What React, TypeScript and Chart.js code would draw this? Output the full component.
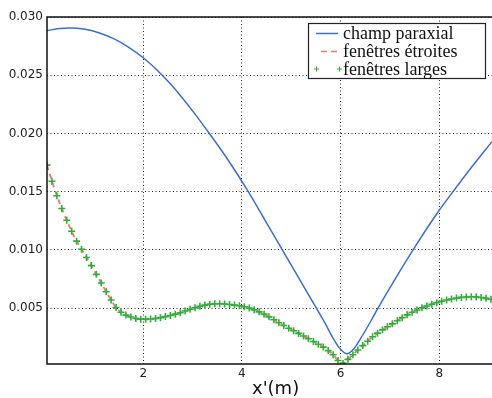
import React, { useEffect, useRef } from "react";
import { Chart, registerables } from "chart.js";

Chart.register(...registerables);

// champ paraxial (blue)
const paraxX = [0.05, 0.3, 0.5, 0.8, 1.1, 1.4, 1.7, 2.0, 2.3, 2.6, 3.0, 3.34, 3.7, 4.13, 4.5, 4.82, 5.2, 5.51, 5.7, 5.85, 6.0, 6.13, 6.26, 6.4, 6.63, 6.76, 7.1, 7.47, 8.0, 8.28, 8.6, 9.07];
const paraxY = [0.02883, 0.02901, 0.02906, 0.02896, 0.02865, 0.02814, 0.02742, 0.0265, 0.02537, 0.02403, 0.02194, 0.0200, 0.01785, 0.0150, 0.01232, 0.0100, 0.00725, 0.0050, 0.0036, 0.00241, 0.00146, 0.00107, 0.00146, 0.00234, 0.0040, 0.0050, 0.00745, 0.0100, 0.0134, 0.0150, 0.0168, 0.0193];

// fenêtres (x grid)
const fenX = [
  0.05, 0.15, 0.25, 0.35, 0.45, 0.55, 0.65, 0.75, 0.85, 0.95,
  1.05, 1.15, 1.25, 1.35, 1.45, 1.55, 1.65, 1.75, 1.85, 1.95,
  2.05, 2.15, 2.25, 2.35, 2.45, 2.55, 2.65, 2.75, 2.85, 2.95,
  3.05, 3.15, 3.25, 3.35, 3.45, 3.55, 3.65, 3.75, 3.85, 3.95,
  4.05, 4.15, 4.25, 4.35, 4.45, 4.55, 4.65, 4.75, 4.85, 4.95,
  5.05, 5.15, 5.25, 5.35, 5.45, 5.55, 5.65, 5.75, 5.85, 5.95,
  6.05, 6.15, 6.25, 6.35, 6.45, 6.55, 6.65, 6.75, 6.85, 6.95,
  7.05, 7.15, 7.25, 7.35, 7.45, 7.55, 7.65, 7.75, 7.85, 7.95,
  8.05, 8.15, 8.25, 8.35, 8.45, 8.55, 8.65, 8.75, 8.85, 8.95,
  9.05,
];

// fenêtres larges (green +)
const largesY = [
  0.01728, 0.0159, 0.01465, 0.01355, 0.01255, 0.0116, 0.01075, 0.01005, 0.00935, 0.00865,
  0.0079, 0.00715, 0.0064, 0.0057, 0.00505, 0.00465, 0.0044, 0.00423, 0.00411, 0.00405,
  0.00404, 0.00406, 0.00411, 0.00418, 0.00427, 0.00437, 0.00448, 0.0046, 0.00475, 0.0049,
  0.00503, 0.00515, 0.00526, 0.00533, 0.00537, 0.00537, 0.00535, 0.00531, 0.00526, 0.0052,
  0.00512, 0.005, 0.00485, 0.00468, 0.00448, 0.00425, 0.004, 0.00374, 0.0035, 0.00327,
  0.00305, 0.00283, 0.0026, 0.00237, 0.00213, 0.0019, 0.00165, 0.00135, 0.001, 0.0005,
  0.00025, 0.0006, 0.001, 0.0014, 0.00178, 0.00216, 0.00254, 0.00285, 0.00313, 0.0034,
  0.00365, 0.00392, 0.00418, 0.00442, 0.00464, 0.00484, 0.00502, 0.00518, 0.00533, 0.00547,
  0.00559, 0.00569, 0.00578, 0.00586, 0.00592, 0.00596, 0.00598, 0.00596, 0.00591, 0.00584,
  0.00576,
];

// fenêtres étroites (red dashed) — coincides with larges
const etroitesY = [
  0.01728, 0.0159, 0.01465, 0.01355, 0.01255, 0.0116, 0.01075, 0.01005, 0.00935, 0.00865,
  0.0079, 0.00715, 0.0064, 0.0057, 0.00505, 0.00465, 0.0044, 0.00423, 0.00411, 0.00405,
  0.00404, 0.00406, 0.00411, 0.00418, 0.00427, 0.00437, 0.00448, 0.0046, 0.00475, 0.0049,
  0.00503, 0.00515, 0.00526, 0.00533, 0.00537, 0.00537, 0.00535, 0.00531, 0.00526, 0.0052,
  0.00512, 0.005, 0.00485, 0.00468, 0.00448, 0.00425, 0.004, 0.00374, 0.0035, 0.00327,
  0.00305, 0.00283, 0.0026, 0.00237, 0.00213, 0.0019, 0.00165, 0.00135, 0.001, 0.0005,
  0.00025, 0.0006, 0.001, 0.0014, 0.00178, 0.00216, 0.00254, 0.00285, 0.00313, 0.0034,
  0.00365, 0.00392, 0.00418, 0.00442, 0.00464, 0.00484, 0.00502, 0.00518, 0.00533, 0.00547,
  0.00559, 0.00569, 0.00578, 0.00586, 0.00592, 0.00596, 0.00598, 0.00596, 0.00591, 0.00584,
  0.00576,
];

const xTicks = [2, 4, 6, 8];
const yTicks = [0.005, 0.01, 0.015, 0.02, 0.025, 0.03];
const legendLabels = ["champ paraxial", "fenêtres étroites", "fenêtres larges"];
const xTitle = "x'(m)";

const BLUE = "#3a6fd0";
const RED = "#f07a66";
const GREEN = "#2fae3c";

const framePlugin = {
  id: "frame",
  beforeDraw(chart: any) {
    const { ctx } = chart;
    ctx.save();
    ctx.fillStyle = "#ffffff";
    ctx.fillRect(0, 0, chart.width, chart.height);
    ctx.restore();
  },
  afterDraw(chart: any) {
    const { ctx, chartArea } = chart;
    const { left, top, right, bottom } = chartArea;
    ctx.save();
    ctx.strokeStyle = "#111";
    ctx.lineWidth = 1.5;
    ctx.beginPath();
    ctx.moveTo(right + 2, top);
    ctx.lineTo(left, top);
    ctx.lineTo(left, bottom);
    ctx.lineTo(right + 2, bottom);
    ctx.stroke();

    // x title
    ctx.fillStyle = "#111";
    ctx.font = '18px "DejaVu Sans"';
    ctx.textAlign = "left";
    ctx.textBaseline = "alphabetic";
    ctx.fillText(xTitle, 252, 394);

    // legend
    const bx = 308.5, by = 23.5, bw = 177, bh = 55;
    ctx.fillStyle = "#fff";
    ctx.fillRect(bx, by, bw, bh);
    ctx.strokeStyle = "#222";
    ctx.lineWidth = 1.2;
    ctx.strokeRect(bx, by, bw, bh);
    const rows = [33.5, 51.5, 69];
    ctx.strokeStyle = BLUE;
    ctx.lineWidth = 1.5;
    ctx.beginPath();
    ctx.moveTo(316, rows[0]);
    ctx.lineTo(338, rows[0]);
    ctx.stroke();
    ctx.strokeStyle = RED;
    ctx.setLineDash([6, 4]);
    ctx.beginPath();
    ctx.moveTo(321, rows[1]);
    ctx.lineTo(338, rows[1]);
    ctx.stroke();
    ctx.setLineDash([]);
    ctx.strokeStyle = GREEN;
    ctx.lineWidth = 1;
    for (const cx of [316.5, 339.5]) {
      ctx.beginPath();
      ctx.moveTo(cx - 2.5, rows[2]);
      ctx.lineTo(cx + 2.5, rows[2]);
      ctx.moveTo(cx, rows[2] - 2.5);
      ctx.lineTo(cx, rows[2] + 2.5);
      ctx.stroke();
    }
    ctx.fillStyle = "#111";
    ctx.font = '18px "Liberation Serif"';
    ctx.textBaseline = "middle";
    legendLabels.forEach((t, i) => ctx.fillText(t, 343, rows[i] + 1));
    ctx.restore();
  },
};

export default function App() {
  const ref = useRef<HTMLCanvasElement>(null);
  useEffect(() => {
    document.body.style.margin = "0";
    const canvas = ref.current!;
    const chart = new Chart(canvas, {
      type: "line",
      data: {
        datasets: [
          {
            label: legendLabels[2],
            data: fenX.map((x, i) => ({ x, y: largesY[i] })),
            showLine: false,
            pointStyle: "cross",
            pointRadius: 3.5,
            pointBorderWidth: 1.6,
            pointBorderColor: GREEN,
            pointBackgroundColor: GREEN,
            borderColor: GREEN,
            order: 0,
          },
          {
            label: legendLabels[1],
            data: fenX.map((x, i) => ({ x, y: etroitesY[i] })),
            borderColor: RED,
            borderWidth: 1.8,
            borderDash: [5, 4],
            pointRadius: 0,
            cubicInterpolationMode: "monotone",
            order: 1,
          },
          {
            label: legendLabels[0],
            data: paraxX.map((x, i) => ({ x, y: paraxY[i] })),
            borderColor: BLUE,
            borderWidth: 1.5,
            pointRadius: 0,
            cubicInterpolationMode: "monotone",
            order: 2,
          },
        ],
      },
      options: {
        responsive: false,
        animation: false,
        devicePixelRatio: 1,
        layout: { autoPadding: false, padding: { top: 17, right: 0, left: 0, bottom: 0 } },
        plugins: { legend: { display: false }, tooltip: { enabled: false } },
        scales: {
          x: {
            type: "linear",
            min: 0.05,
            max: 9.07,
            afterBuildTicks: (s: any) => {
              s.ticks = xTicks.map((v) => ({ value: v }));
            },
            afterFit: (s: any) => {
              s.height = 34;
            },
            ticks: {
              callback: (v: any) => String(v),
              color: "#222",
              font: { family: "DejaVu Sans", size: 12 },
              padding: 3,
              maxRotation: 0,
            },
            grid: { color: "#222", lineWidth: 1, drawTicks: false },
            border: { display: false, dash: [1, 2.5] },
          },
          y: {
            type: "linear",
            min: 0.0002,
            max: 0.03,
            afterBuildTicks: (s: any) => {
              s.ticks = yTicks.map((v) => ({ value: v }));
            },
            afterFit: (s: any) => {
              s.width = 47;
            },
            ticks: {
              callback: (v: any) => Number(v).toFixed(3),
              color: "#222",
              font: { family: "DejaVu Sans", size: 12 },
              padding: 4,
            },
            grid: { color: "#222", lineWidth: 1, drawTicks: false },
            border: { display: false, dash: [1, 2.5] },
          },
        },
      },
      plugins: [framePlugin],
    } as any);
    return () => chart.destroy();
  }, []);
  return (
    <div style={{ width: 492, height: 398 }}>
      <canvas ref={ref} width={492} height={398} style={{ display: "block" }} />
    </div>
  );
}
